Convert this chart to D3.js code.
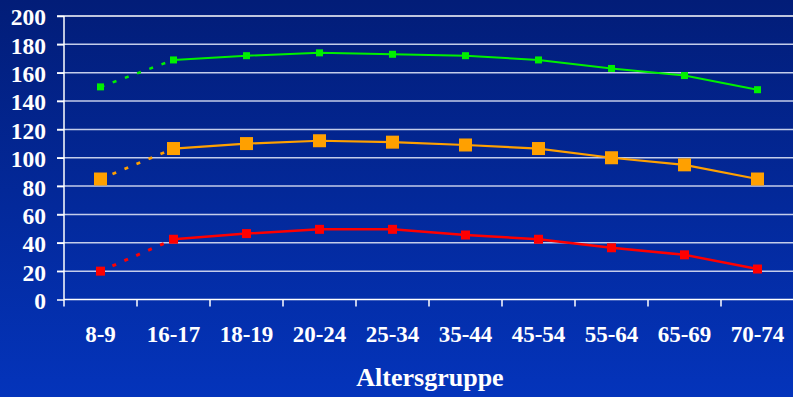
<!DOCTYPE html>
<html><head><meta charset="utf-8">
<script src="https://cdn.jsdelivr.net/npm/d3@7"></script>
<style>html,body{margin:0;padding:0;overflow:hidden;background:#0229a0}</style>
</head><body>
<svg id="chart" width="793" height="397"></svg>
<script>
const categories = ["8-9","16-17","18-19","20-24","25-34","35-44","45-54","55-64","65-69","70-74"];
const yTicks = [0,20,40,60,80,100,120,140,160,180,200];
const greenValues  = [150,169,172,174,173,172,169,163,158,148];
const orangeValues = [85,106.5,110,112,111,109,106.5,100,95,85];
const redValues    = [20,42.5,46.5,49.5,49.5,45.5,42.5,36.5,31.5,21.5];
const xTitle = "Altersgruppe";

const series = [
  {name:"green", values: greenValues, color:"#00f000", size:7, width:2},
  {name:"orange", values: orangeValues, color:"#ffa000", size:13, width:2.2},
  {name:"red", values: redValues, color:"#ff0000", size:9, width:2.5}
];

const W=793, H=397;
const svg = d3.select("#chart");
const defs = svg.append("defs");
const grad = defs.append("linearGradient").attr("id","bg").attr("x1",0).attr("y1",0).attr("x2",0).attr("y2",1);
grad.append("stop").attr("offset","0%").attr("stop-color","#021d78");
grad.append("stop").attr("offset","100%").attr("stop-color","#0434bb");
svg.append("rect").attr("width",W).attr("height",H).attr("fill","url(#bg)");

const mLeft=64, mRight=794, mTop=16, mBottom=299.5;
const x = d3.scaleBand().domain(categories).range([mLeft,mRight]);
const y = d3.scaleLinear().domain([0,200]).range([mBottom,mTop]);
const font = "'Liberation Serif','Times New Roman',serif";

// gridlines
svg.append("g").selectAll("line").data(yTicks.filter(d=>d>0)).join("line")
  .attr("x1",57).attr("x2",W).attr("y1",d=>y(d)).attr("y2",d=>y(d))
  .attr("stroke",d=>d===200?"#ffffff":"#c4cdea").attr("stroke-width",1.5);

// y axis
const yAxis = svg.append("g").attr("transform",`translate(${mLeft},0)`)
  .call(d3.axisLeft(y).tickValues(yTicks).tickSize(7).tickPadding(11));
yAxis.select(".domain").attr("stroke","#fff").attr("stroke-width",1.5).attr("d",`M0,${mTop}V${mBottom}`);
yAxis.selectAll(".tick line").attr("stroke","#fff").attr("stroke-width",1.5);
yAxis.selectAll("text").attr("fill","#fff").attr("font-family",font).attr("font-weight","bold").attr("font-size",23.5).attr("dy","0.38em");

// x axis
const xAxis = svg.append("g").attr("transform",`translate(0,${mBottom})`)
  .call(d3.axisBottom(x).tickSize(0).tickPadding(26));
xAxis.select(".domain").attr("stroke","#fff").attr("stroke-width",1.5).attr("d",`M${mLeft},0H${W}`);
xAxis.selectAll("text").attr("fill","#fff").attr("font-family",font).attr("font-weight","bold").attr("font-size",23);
svg.append("g").selectAll("line").data(categories).join("line")
  .attr("x1",d=>x(d)).attr("x2",d=>x(d)).attr("y1",mBottom).attr("y2",mBottom+7)
  .attr("stroke","#fff").attr("stroke-width",1.5);

svg.append("text").attr("x",430).attr("y",386).attr("text-anchor","middle")
  .attr("fill","#fff").attr("font-family",font).attr("font-weight","bold").attr("font-size",26).text(xTitle);

const cx = c => x(c)+x.bandwidth()/2;
const line = d3.line().x(d=>cx(d.c)).y(d=>y(d.v));
series.forEach(s=>{
  const pts = categories.map((c,i)=>({c, v:s.values[i]}));
  const g = svg.append("g");
  g.append("path").attr("d",line(pts.slice(0,2))).attr("fill","none").attr("stroke",s.color)
    .attr("stroke-width",s.width+0.5).attr("stroke-dasharray","4,9");
  g.append("path").attr("d",line(pts.slice(1))).attr("fill","none").attr("stroke",s.color)
    .attr("stroke-width",s.width);
  g.selectAll("rect").data(pts).join("rect")
    .attr("x",d=>cx(d.c)-s.size/2).attr("y",d=>y(d.v)-s.size/2)
    .attr("width",s.size).attr("height",s.size).attr("fill",s.color);
});
</script>
</body></html>
